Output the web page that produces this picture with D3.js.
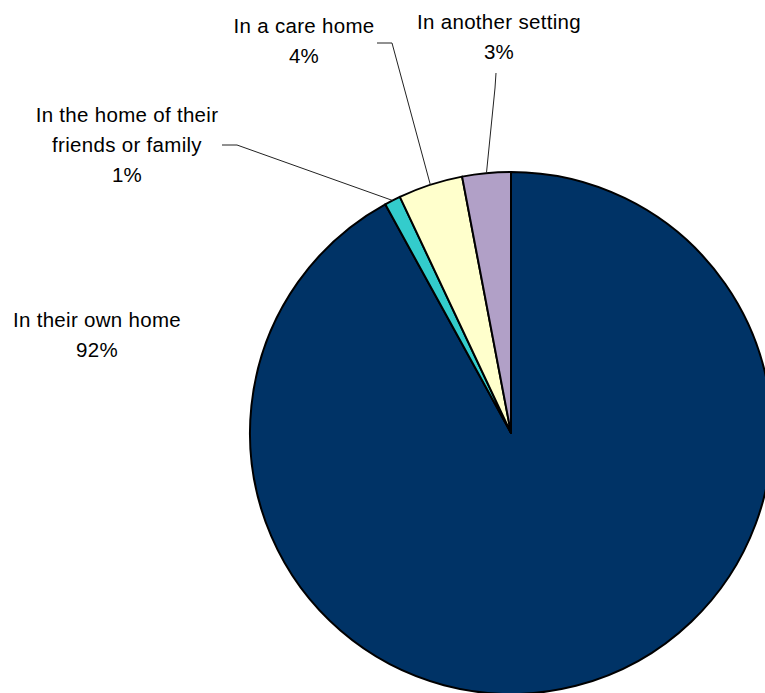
<!DOCTYPE html>
<html>
<head>
<meta charset="utf-8">
<script src="https://cdn.jsdelivr.net/npm/d3@7"></script>
<style>
  html, body { margin: 0; padding: 0; background: #fff; }
  svg { display: block; }
  text { font-family: "Liberation Sans", Arial, sans-serif; fill: #000; }
</style>
</head>
<body>
<svg id="chart" width="765" height="693"></svg>
<script>
// Where people are supported (share of respondents)
const categories = [
  "In their own home",
  "In the home of their friends or family",
  "In a care home",
  "In another setting"
];
const shares = [92, 1, 4, 3];
const valueLabels = ["92%", "1%", "4%", "3%"];
// Label text broken into lines as shown on the chart
const labelLines = [
  ["In their own home"],
  ["In the home of their", "friends or family"],
  ["In a care home"],
  ["In another setting"]
];
const sliceColors = ["#003366", "#33CCCC", "#FFFFCC", "#B1A0C7"];

// Layout
const W = 765, H = 693;
const cx = 511, cy = 433, R = 261;
const fontSize = 20.5, lineGap = 30;
// label block centre x, first baseline y, and leader elbow (null = no leader)
const labelLayout = [
  { x: 97,  y: 327, leader: null },
  { x: 127, y: 122, leader: [[222, 145], [237, 145]] },
  { x: 304, y: 33,  leader: [[377, 43], [392, 43]] },
  { x: 499, y: 29,  leader: [[496, 73], [495, 88]] }
];

const svg = d3.select("#chart");
const g = svg.append("g").attr("transform", `translate(${cx},${cy})`);

const pie = d3.pie().sort(null).value(d => d);
const arcs = pie(shares);
const arc = d3.arc().innerRadius(0).outerRadius(R);

g.selectAll("path.slice")
  .data(arcs)
  .join("path")
  .attr("class", "slice")
  .attr("d", arc)
  .attr("fill", (d, i) => sliceColors[i])
  .attr("stroke", "#000")
  .attr("stroke-width", 2)
  .attr("stroke-linejoin", "round");

// Leader lines from the label elbow to the rim at each slice's mid-angle
arcs.forEach((a, i) => {
  const L = labelLayout[i];
  if (!L.leader) return;
  const mid = (a.startAngle + a.endAngle) / 2;
  const rim = [cx + R * Math.sin(mid), cy - R * Math.cos(mid)];
  const pts = [...L.leader, rim];
  svg.append("path")
    .attr("d", d3.line()(pts))
    .attr("fill", "none")
    .attr("stroke", "#222")
    .attr("stroke-width", 1);
});

// Category and percentage labels
categories.forEach((c, i) => {
  const L = labelLayout[i];
  const lines = [...labelLines[i], valueLabels[i]];
  const t = svg.append("text")
    .attr("text-anchor", "middle")
    .attr("font-size", fontSize)
    .attr("letter-spacing", 0.3);
  lines.forEach((ln, k) => {
    t.append("tspan")
      .attr("x", L.x)
      .attr("y", L.y + k * lineGap)
      .text(ln);
  });
});
</script>
</body>
</html>
